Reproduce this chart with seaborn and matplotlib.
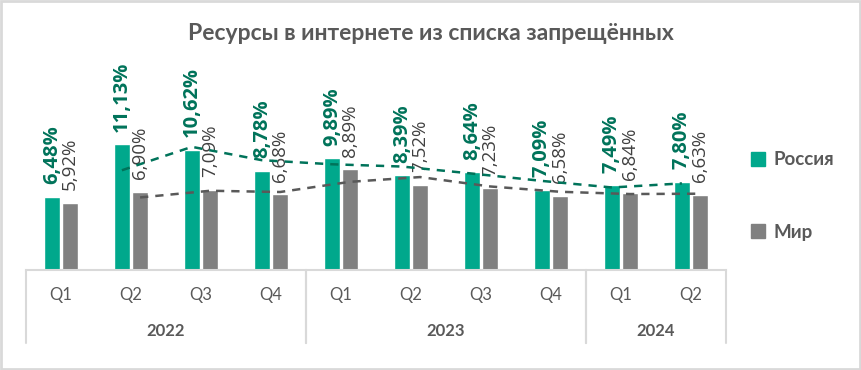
import pandas as pd
import matplotlib
matplotlib.use('Agg')
import matplotlib.pyplot as plt
import matplotlib.patches as patches
from matplotlib.lines import Line2D
import seaborn as sns

# Datos
anios = ['2022', '2022', '2022', '2022', '2023', '2023', '2023', '2023', '2024', '2024']
trimestres = ['Q1', 'Q2', 'Q3', 'Q4', 'Q1', 'Q2', 'Q3', 'Q4', 'Q1', 'Q2']
rusia = [6.48, 11.13, 10.62, 8.78, 9.89, 8.39, 8.64, 7.09, 7.49, 7.80]
mundo = [5.92, 6.90, 7.09, 6.68, 8.89, 7.52, 7.23, 6.58, 6.84, 6.63]
# líneas de tendencia (media móvil)
rusia_tend = [None, 8.81, 10.88, 9.70, 9.34, 9.14, 8.52, 7.87, 7.29, 7.65]
mundo_tend = [None, 6.41, 7.00, 6.89, 7.79, 8.21, 7.38, 6.91, 6.71, 6.74]
series = ['Россия', 'Мир']

verde = '#00A88C'
gris = '#808080'
verde_osc = '#00735A'
gris_osc = '#595959'

sns.set_style('white')
plt.rcParams['font.family'] = ['Lato', 'Open Sans', 'DejaVu Sans']

cats = [f'{t} {a}' for a, t in zip(anios, trimestres)]
df = pd.DataFrame({
    'cat': cats * 2,
    'serie': [series[0]] * len(cats) + [series[1]] * len(cats),
    'valor': rusia + mundo,
})

fig = plt.figure(figsize=(8.62, 3.70), dpi=100)
W, H = 862, 370
x0, x1, yb, yt = 26, 726, 270, 50
ax = fig.add_axes([x0 / W, (H - yb) / H, (x1 - x0) / W, (yb - yt) / H])

sns.barplot(data=df, x='cat', y='valor', hue='serie', order=cats, hue_order=series,
            palette=[verde, gris], saturation=1, width=0.52, gap=0.12, ax=ax, legend=False)

ax.set_ylim(0, (yb - yt) / 11.32)
ax.set_xlim(-0.5, len(cats) - 0.5)

# Etiquetas de datos
for cont, color, peso, tam in zip(ax.containers, ['#00735A', '#404040'], ['bold', 'normal'], [14.5, 13.5]):
    vals = [b.get_height() for b in cont]
    ax.bar_label(cont, labels=[f'{v:.2f}%'.replace('.', ',') for v in vals],
                 rotation=90, padding=9, color=color, fontweight=peso, fontsize=tam,
                 family=['Open Sans', 'DejaVu Sans'])

# Tendencias
xs = list(range(len(cats)))
ax.plot([x - 0.13 for x, v in zip(xs, rusia_tend) if v is not None],
        [v for v in rusia_tend if v is not None],
        color=verde_osc, lw=1.8, ls=(0, (3.3, 2.8)), zorder=3)
ax.plot([x + 0.13 for x, v in zip(xs, mundo_tend) if v is not None],
        [v for v in mundo_tend if v is not None],
        color=gris_osc, lw=1.8, ls=(0, (3.3, 2.8)), zorder=3)

# Ejes
for s in ['top', 'right', 'left']:
    ax.spines[s].set_visible(False)
ax.spines['bottom'].set_color('#D9D9D9')
ax.spines['bottom'].set_linewidth(1.5)
ax.set_yticks([])
ax.set_xticks(xs)
ax.set_xticklabels(trimestres, color=gris_osc, fontsize=12)
ax.tick_params(axis='x', length=0, pad=12)
ax.set_xlabel('')
ax.set_ylabel('')

# Años y divisores
grupos = []
for i, a in enumerate(anios):
    if not grupos or grupos[-1][0] != a:
        grupos.append([a, i, i])
    else:
        grupos[-1][2] = i
ty = -(331 - yb) / (yb - yt)
fondo = -(343 - yb) / (yb - yt)
for a, i0, i1 in grupos:
    ax.text((i0 + i1) / 2, ty, a, transform=ax.get_xaxis_transform(), ha='center', va='center',
            color=gris_osc, fontsize=12, fontweight='bold')
    for b in (i0 - 0.5, i1 + 0.5):
        ax.add_line(Line2D([b, b], [0, fondo], transform=ax.get_xaxis_transform(),
                           color='#D9D9D9', lw=1.5, clip_on=False))

# Título
fig.text(431 / W, 1 - 33 / H, 'Ресурсы в интернете из списка запрещённых', ha='center', va='center',
         color=gris_osc, fontsize=16.5, fontweight='bold')

# Leyenda
manejadores = [patches.Patch(color=verde), patches.Patch(color=gris)]
leg = fig.legend(manejadores, series, loc='center left', bbox_to_anchor=(734 / W, 1 - 196 / H),
                 frameon=False, handlelength=0.75, handleheight=0.75, handletextpad=0.45,
                 labelspacing=2.95, prop={'size': 13.5, 'weight': 'bold'})
for t in leg.get_texts():
    t.set_color(gris_osc)

# Borde
fig.patches.append(patches.Rectangle((0.001, 0.002), 0.997, 0.995, transform=fig.transFigure,
                                     fill=False, edgecolor='#D9D9D9', lw=2))

fig.savefig('out.png', dpi=100)
